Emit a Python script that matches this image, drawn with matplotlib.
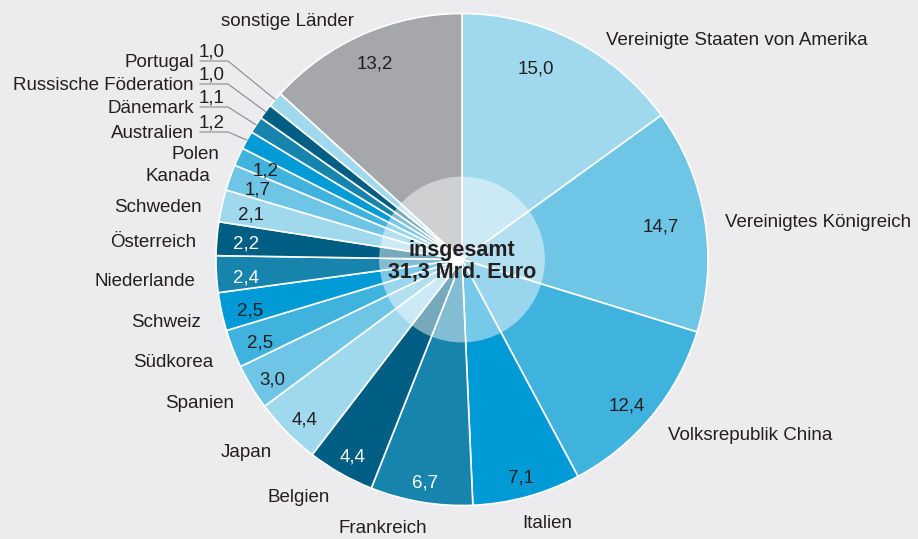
import matplotlib.pyplot as plt
import numpy as np

# data
countries = ["Vereinigte Staaten von Amerika", "Vereinigtes Königreich", "Volksrepublik China",
             "Italien", "Frankreich", "Belgien", "Japan", "Spanien", "Südkorea", "Schweiz",
             "Niederlande", "Österreich", "Schweden", "Kanada", "Polen", "Australien",
             "Dänemark", "Russische Föderation", "Portugal", "sonstige Länder"]
values = [15.0, 14.7, 12.4, 7.1, 6.7, 4.4, 4.4, 3.0, 2.5, 2.5,
          2.4, 2.2, 2.1, 1.7, 1.2, 1.2, 1.1, 1.0, 1.0, 13.2]

# six blue shades repeated, grey for the rest
blues = ['#a0d9ee', '#6fc5e6', '#3fb2de', '#009bd6', '#1784ad', '#005d83']
colors = [blues[i % 6] for i in range(len(values) - 1)] + ['#a6a7ab']
white_text = {'#1784ad', '#005d83'}

bg = '#ececef'
txt = '#231f20'
plt.rcParams['font.family'] = ['Liberation Sans', 'DejaVu Sans']

W, H = 918, 539
cx, cy, R = 462, 259.5, 246


def px(x, y):
    # pixel position -> data units (pie radius = 1)
    return (x - cx) / R, (cy - y) / R


fig = plt.figure(figsize=(W / 100, H / 100), dpi=100, facecolor=bg)
ax = fig.add_axes([0, 0, 1, 1])
ax.set_facecolor(bg)

wedges, _ = ax.pie(values, colors=colors, startangle=90, counterclock=False,
                   wedgeprops=dict(edgecolor='white', linewidth=1.2))

ax.set_xlim(-cx / R, (W - cx) / R)
ax.set_ylim(-(H - cy) / R, cy / R)
ax.set_aspect('auto')
ax.axis('off')

# translucent inner disc
ax.add_patch(plt.Circle((0, 0), 0.337, color='white', alpha=0.47, lw=0, zorder=3))
ax.text(0, 0.038, "insgesamt", ha='center', va='center', fontsize=15.5,
        fontweight='bold', color=txt, zorder=5)
ax.text(0, -0.052, "31,3 Mrd. Euro", ha='center', va='center', fontsize=15.5,
        fontweight='bold', color=txt, zorder=5)

# small slices get stacked labels with leader lines
stacked = {15: 132, 16: 107, 17: 84, 18: 61}
value_nudge = {0: (-0.1, 0.0), 1: (-0.06, 0.0), 2: (-0.025, 0.0)}
label_nudge = {0: (0.09, -0.05), 3: (-0.04, 0.0), 4: (0.04, 0.0)}
fs = 13.5

for i, w in enumerate(wedges):
    ang = np.radians((w.theta1 + w.theta2) / 2)
    ca, sa = np.cos(ang), np.sin(ang)
    lab = f"{values[i]:.1f}".replace('.', ',')
    fc = 'white' if colors[i] in white_text else txt

    if i in stacked:
        ly = stacked[i]
        xe, ye = px(228, ly)
        xs, _ = px(200, ly)
        ax.plot([ca, xe, xs], [sa, ye, ye], color='#8a8a8c', lw=0.8, zorder=4)
        ax.text(*px(194, ly + 1), countries[i], ha='right', va='center',
                fontsize=fs, color=txt)
        ax.text(*px(199, ly - 9), lab, ha='left', va='center', fontsize=fs, color=txt)
        continue

    dx, dy = value_nudge.get(i, (0, 0))
    r_val = 0.9 if sa < -0.5 else 0.88
    shift = -0.01 - (0.012 if sa < 0 else 0.0)
    ax.text(r_val * ca + dx, r_val * sa + dy + shift, lab, ha='center', va='center',
            fontsize=fs, color=fc, zorder=5)

    lx, ly = label_nudge.get(i, (0, 0))
    ax.text(1.085 * ca + lx, 1.085 * sa + ly - 0.025, countries[i],
            ha='left' if ca > 0 else 'right', va='center', fontsize=fs, color=txt)

fig.savefig('out.png', dpi=100, facecolor=bg)
